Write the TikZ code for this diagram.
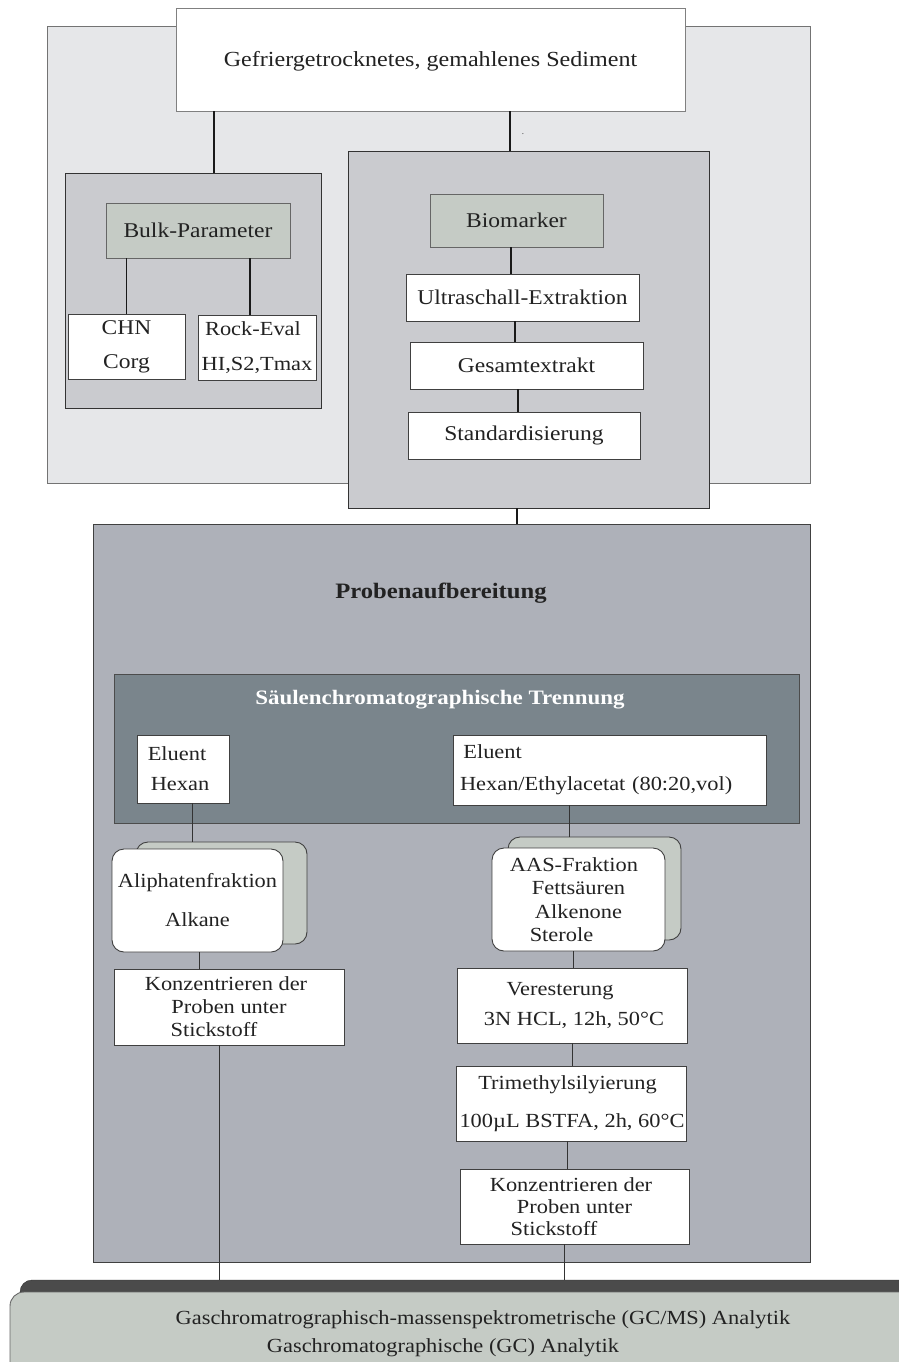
\documentclass[tikz,border=0pt]{standalone}
\usepackage{fontspec}
\setmainfont{Liberation Serif}[FakeStretch=1.12]
\usetikzlibrary{positioning,calc}

\definecolor{paleback}{HTML}{E6E7E9}
\definecolor{midback}{HTML}{CACBCF}
\definecolor{sage}{HTML}{C5CBC5}
\definecolor{slate}{HTML}{AEB1B9}
\definecolor{darkslate}{HTML}{7A858C}
\definecolor{charcoal}{HTML}{4B4B4B}
\definecolor{ink}{HTML}{222222}

\begin{document}
\begin{tikzpicture}[
    x=1pt, y=-1pt,
    every node/.style={inner sep=0pt, outer sep=0pt, text=ink},
    panel/.style={rectangle, draw=black!55, line width=0.9pt},
    whitebox/.style={rectangle, draw=black!75, line width=0.9pt, fill=white, align=center,
        font=\fontsize{21}{25}\selectfont},
    sagebox/.style={rectangle, draw=black!60, line width=0.9pt, fill=sage,
        font=\fontsize{21}{25}\selectfont},
    fraction/.style={rectangle, rounded corners=12pt, draw=black!75, line width=0.9pt, fill=white,
        align=center},
    shadow/.style={rectangle, rounded corners=12pt, draw=black!75, line width=0.9pt, fill=sage},
    link/.style={draw=black!90, line width=1.3pt},
    thinlink/.style={draw=black!80, line width=0.8pt}
]
    \useasboundingbox (0,0) rectangle (899,1362);

    % Obere Gruppe
    \node[panel, fill=paleback, minimum width=763, minimum height=457] (upper) at (428.5,254.5) {};
    \node[whitebox, draw=black!50, minimum width=509, minimum height=103, text height=14pt, text depth=0pt,
        font=\fontsize{21.5}{25}\selectfont] (sediment) at (430.5,59.5) {Gefriergetrocknetes, gemahlenes Sediment};
    \node[font=\fontsize{8}{8}\selectfont] (stray) at (523,134) {.};

    % Bulk-Parameter
    \node[panel, draw=black!80, fill=midback, minimum width=256, minimum height=235] (bulkgrp) at (193,290.5) {};
    \node[sagebox, minimum width=184, minimum height=55] (bulk) at (198,230.5) {Bulk-Parameter};
    \node[whitebox, font=\fontsize{21}{34}\selectfont, minimum width=117, minimum height=65] (chn) at (126.5,346.5) {CHN\\Corg};
    \node[whitebox, font=\fontsize{20}{35}\selectfont, minimum width=118, minimum height=65] (rock) at (257,347.5) {Rock-Eval\hspace*{8pt}\\HI,S2,Tmax};

    % Biomarker
    \node[panel, draw=black!80, fill=midback, minimum width=361, minimum height=357] (biogrp) at (528.5,329.5) {};
    \node[sagebox, minimum width=173, minimum height=53] (bio) at (516.5,220.5) {Biomarker};
    \node[whitebox, minimum width=233, minimum height=47] (ultra) at (522.5,297.5) {Ultraschall-Extraktion};
    \node[whitebox, minimum width=233, minimum height=47] (gesamt) at (526.5,365.5) {Gesamtextrakt};
    \node[whitebox, minimum width=232, minimum height=47] (standard) at (524,435.5) {Standardisierung};

    \draw[link] ([xshift=21pt]bulkgrp.north) -- ([xshift=21pt]bulkgrp.north |- sediment.south);
    \draw[link] ([xshift=-18.5pt]biogrp.north) -- ([xshift=-18.5pt]biogrp.north |- sediment.south);
    \draw[link] (chn.north) -- (chn.north |- bulk.south);
    \draw[link] ([xshift=-7pt]rock.north) -- ([xshift=-7pt]rock.north |- bulk.south);
    \draw[link] ([xshift=-5.5pt]bio.south) -- ([xshift=-5.5pt]bio.south |- ultra.north);
    \draw[link] ([xshift=-7.5pt]ultra.south) -- ([xshift=-7.5pt]ultra.south |- gesamt.north);
    \draw[link] ([xshift=-8.5pt]gesamt.south) -- ([xshift=-8.5pt]gesamt.south |- standard.north);

    % Probenaufbereitung
    \node[panel, draw=black!75, fill=slate, minimum width=717, minimum height=738] (proben) at (451.5,893) {};
    \draw[link] ([xshift=-11.5pt]biogrp.south) -- ([xshift=-11.5pt]biogrp.south |- proben.north);
    \node[font=\bfseries\fontsize{22}{26}\selectfont] (probentitle) at (441,593) {Probenaufbereitung};

    \node[panel, draw=black!70, fill=darkslate, minimum width=685, minimum height=149] (saeule) at (456.5,748.5) {};
    \node[font=\bfseries\fontsize{20.5}{24}\selectfont, text=white] (saeuletitle) at (440,700) {Säulenchromatographische Trennung};
    \node[whitebox, font=\fontsize{20}{30}\selectfont, minimum width=92, minimum height=68] (elhex) at (183,769) {Eluent\hspace*{12pt}\\Hexan\hspace*{6pt}};
    \node[whitebox, align=left, font=\fontsize{20}{32}\selectfont, minimum width=313, minimum height=70,
        text width=300] (elethyl) at (610,770) {\,Eluent\\Hexan/Ethylacetat (80:20,vol)};

    % Fraktionen
    \node[shadow, minimum width=171, minimum height=102] (aliback) at (221.5,893) {};
    \node[fraction, font=\fontsize{20}{39}\selectfont, minimum width=171, minimum height=103] (ali) at (197.5,900.5) {Aliphatenfraktion\\Alkane};
    \node[shadow, minimum width=173, minimum height=103] (aasback) at (594.5,888.5) {};
    \node[fraction, font=\fontsize{20}{23.5}\selectfont, minimum width=173, minimum height=103] (aas) at (578.5,899.5)
        {AAS-Fraktion\hspace*{9pt}\\Fettsäuren\hspace*{25pt}\\Alkenone\hspace*{23pt}\\Sterole\hspace*{34pt}};

    \draw[thinlink] ([xshift=-29.5pt]aliback.north) -- ([xshift=-29.5pt]aliback.north |- elhex.south);
    \draw[thinlink] ([xshift=-25.5pt]aasback.north) -- ([xshift=-25.5pt]aasback.north |- elethyl.south);

    % Aufarbeitung
    \node[whitebox, font=\fontsize{20}{23}\selectfont, minimum width=230, minimum height=76] (konzl) at (229,1007)
        {Konzentrieren der\hspace*{6pt}\\Proben unter\hspace*{21pt}\\Stickstoff\hspace*{30pt}};
    \node[whitebox, font=\fontsize{20}{30}\selectfont, minimum width=230, minimum height=75] (ester) at (572,1005.5)
        {Veresterung\hspace*{24pt}\\\hspace*{4pt}3N HCL, 12h, 50°C};
    \node[whitebox, font=\fontsize{20}{38}\selectfont, minimum width=230, minimum height=75] (silyl) at (571,1103.5)
        {Trimethylsilyierung\hspace*{7pt}\\\hspace*{2pt}100µL BSTFA, 2h, 60°C};
    \node[whitebox, font=\fontsize{20}{22}\selectfont, minimum width=229, minimum height=75] (konzr) at (574.5,1206.5)
        {Konzentrieren der\hspace*{7pt}\\Proben unter\hspace*{31pt}\\Stickstoff\hspace*{41pt}};

    \draw[thinlink] ([xshift=1.5pt]ali.south) -- ([xshift=1.5pt]ali.south |- konzl.north);
    \draw[thinlink] ([xshift=-5pt]aas.south) -- ([xshift=-5pt]aas.south |- ester.north);
    \draw[thinlink] ([xshift=0.5pt]ester.south) -- ([xshift=0.5pt]ester.south |- silyl.north);
    \draw[thinlink] ([xshift=-3.5pt]silyl.south) -- ([xshift=-3.5pt]silyl.south |- konzr.north);

    % Analytik
    \node[rectangle, rounded corners=12pt, draw=black!80, fill=charcoal, minimum width=930, minimum height=140] (gcback) at (485,1350) {};
    \node[rectangle, rounded corners=14pt, draw=black!60, line width=0.9pt, fill=sage, minimum width=940, minimum height=128] (gc) at (480,1356) {};
    \node[font=\fontsize{20}{24}\selectfont] (gcms) at (483,1320) {Gaschromatrographisch-massenspektrometrische (GC/MS) Analytik};
    \node[font=\fontsize{20}{24}\selectfont] (gcflame) at (443,1348) {Gaschromatographische (GC) Analytik};

    \draw[thinlink] ([xshift=-10pt]konzl.south) -- ([xshift=-10pt]konzl.south |- gcback.north);
    \draw[thinlink] ([xshift=-10.5pt]konzr.south) -- ([xshift=-10.5pt]konzr.south |- gcback.north);
\end{tikzpicture}
\end{document}
